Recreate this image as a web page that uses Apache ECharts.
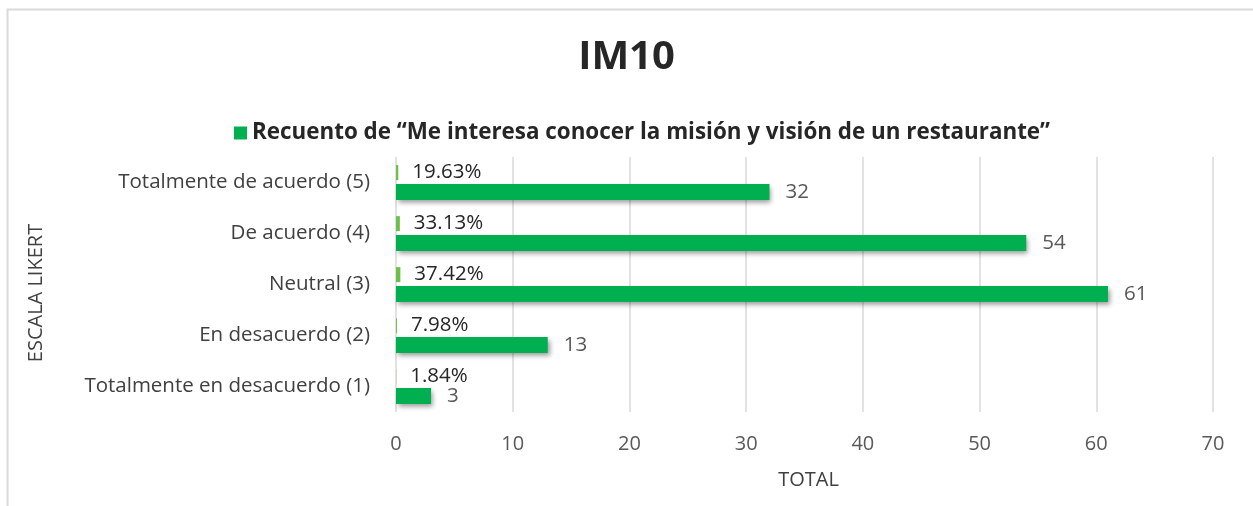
<!DOCTYPE html>
<html lang="es">
<head>
    <meta charset="UTF-8">
    <title>IM10</title>
    <script src="https://cdn.jsdelivr.net/npm/echarts@6/dist/echarts.min.js"></script>
    <style>
        html, body { margin: 0; padding: 0; background: #fff; }
        #chart { width: 1253px; height: 506px; }
    </style>
</head>
<body>
<div id="chart"></div>
<script>
    // datos
    var categorias = ['Totalmente en desacuerdo (1)', 'En desacuerdo (2)', 'Neutral (3)', 'De acuerdo (4)', 'Totalmente de acuerdo (5)'];
    var recuento = [3, 13, 61, 54, 32];
    var porcentaje = [0.0184, 0.0798, 0.3742, 0.3313, 0.1963];
    var ticksX = [0, 10, 20, 30, 40, 50, 60, 70];
    var nombreSerie = 'Recuento de \u201cMe interesa conocer la misi\u00f3n y visi\u00f3n de un restaurante\u201d';

    var fuente = '"Open Sans", "Noto Sans", sans-serif';
    var chart = echarts.init(document.getElementById('chart'));

    var option = {
        backgroundColor: '#fff',
        animation: false,
        title: {
            text: 'IM10',
            left: 'center',
            top: 33,
            textStyle: { fontFamily: fuente, fontSize: 40, fontWeight: 'bold', color: '#262626' }
        },
        legend: {
            data: [nombreSerie],
            top: 117,
            left: 229,
            icon: 'rect',
            itemWidth: 13,
            itemHeight: 13,
            itemGap: 6,
            textStyle: { fontFamily: fuente, fontSize: 22.4, fontWeight: 'bold', color: '#262626' }
        },
        graphic: [{
            type: 'rect',
            shape: { x: 7.5, y: 9.5, width: 1400, height: 700 },
            style: { fill: 'none', stroke: '#d9d9d9', lineWidth: 2 },
            silent: true
        }],
        grid: { left: 396, right: 40, top: 157, bottom: 94 },
        xAxis: {
            type: 'value',
            min: ticksX[0],
            max: ticksX[ticksX.length - 1],
            interval: 10,
            name: 'TOTAL',
            nameLocation: 'middle',
            nameGap: 58,
            nameTextStyle: { fontFamily: fuente, fontSize: 20, color: '#404040', padding: [0, 0, 0, 8] },
            axisLine: { show: false },
            axisTick: { show: false },
            axisLabel: { fontFamily: fuente, fontSize: 20, color: '#595959', margin: 22 },
            splitLine: { lineStyle: { color: '#d9d9d9', width: 1.5 } }
        },
        yAxis: {
            type: 'category',
            data: categorias,
            name: 'ESCALA LIKERT',
            nameLocation: 'middle',
            nameRotate: 90,
            nameGap: 350,
            nameTextStyle: { fontFamily: fuente, fontSize: 20, color: '#404040', padding: [0, 17, 0, 0] },
            axisLine: { show: false },
            axisTick: { show: false },
            axisLabel: { fontFamily: fuente, fontSize: 20.5, color: '#404040', margin: 26 }
        },
        series: [{
            name: 'Porcentaje',
            type: 'bar',
            data: porcentaje,
            barWidth: 15,
            barGap: '25%',
            itemStyle: { color: '#6cc04a' },
            label: {
                show: true,
                position: 'right',
                distance: 14,
                fontFamily: fuente,
                fontSize: 20.5,
                color: '#262626',
                formatter: function (p) {
                    return (p.value * 100).toFixed(2) + '%';
                }
            }
        }, {
            name: nombreSerie,
            type: 'bar',
            data: recuento,
            barWidth: 16,
            barGap: '25%',
            itemStyle: {
                color: '#00b050',
                shadowColor: 'rgba(0,0,0,0.4)',
                shadowBlur: 5,
                shadowOffsetX: 2,
                shadowOffsetY: 3
            },
            label: {
                show: true,
                position: 'right',
                distance: 16,
                fontFamily: fuente,
                fontSize: 20.5,
                color: '#595959'
            }
        }]
    };
    chart.setOption(option);
</script>
</body>
</html>
